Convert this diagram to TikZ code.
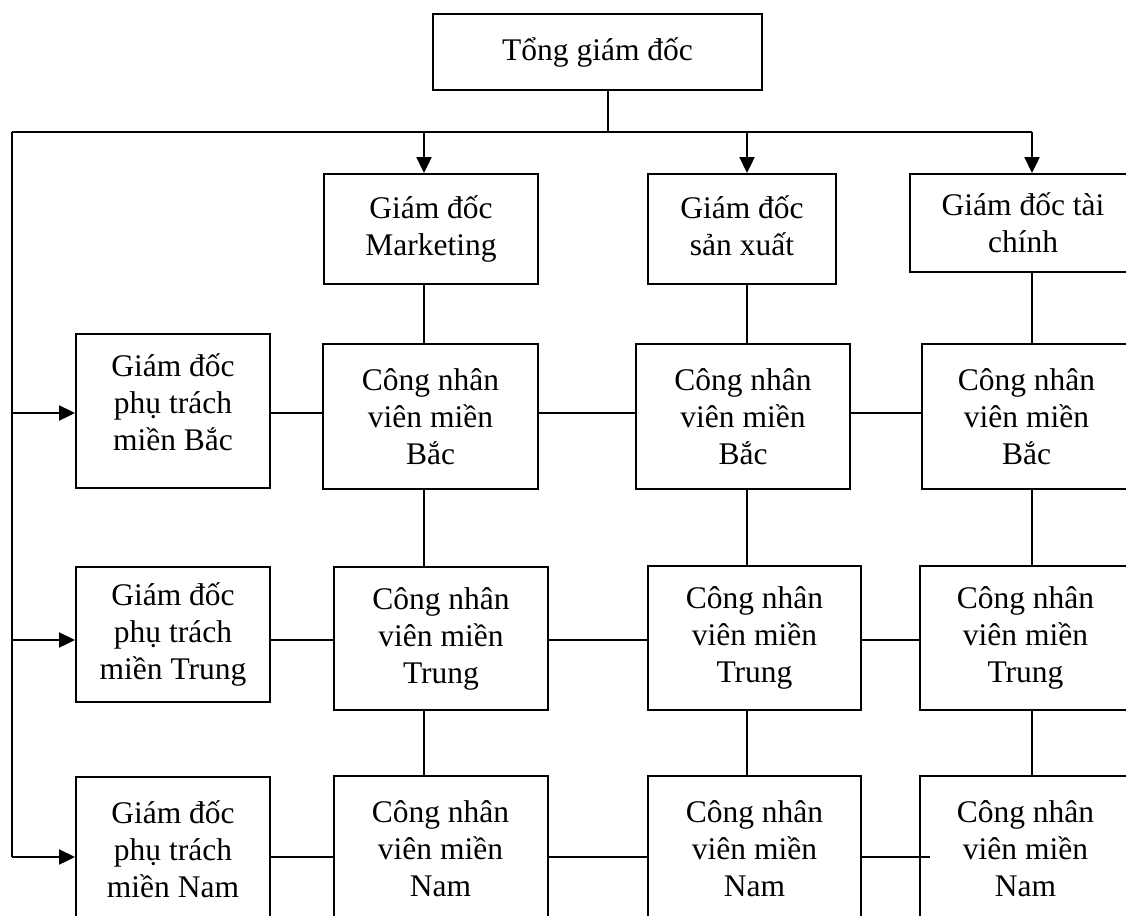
\documentclass[tikz,border=0pt]{standalone}
\usepackage{fontspec}
\setmainfont{Liberation Serif}
\usetikzlibrary{arrows.meta,calc}

\begin{document}
\begin{tikzpicture}[x=1pt,y=-1pt,
  box/.style={draw, line width=2pt, inner sep=0pt, align=center,
    font=\fontsize{31.5}{37}\selectfont},
  link/.style={line width=1.8pt},
  arr/.style={line width=2.4pt, -{Triangle[length=16pt,width=15pt]}}]

\useasboundingbox (0,0) rectangle (1126,915);
\clip (0,0) rectangle (1126,915);

% top level
\node[box, minimum width=329, minimum height=76] (ceo) at (597.5,52) {Tổng giám đốc};

% department directors
\node[box, minimum width=214, minimum height=110] (mk) at (431,229) {Giám đốc\\Marketing};
\node[box, minimum width=188, minimum height=110, text depth=6pt] (sx) at (742,229) {Giám đốc\\sản xuất};
\node[box, minimum width=226, minimum height=98]  (tc) at (1023,223) {Giám đốc tài\\chính};

% regional directors
\node[box, minimum width=194, minimum height=154, text depth=18pt] (l1) at (173,411) {Giám đốc\\phụ trách\\miền Bắc};
\node[box, minimum width=194, minimum height=135] (l2) at (173,634.5) {Giám đốc\\phụ trách\\miền Trung};
\node[box, minimum width=194, minimum height=145] (l3) at (173,849.5) {Giám đốc\\phụ trách\\miền Nam};

% staff, north
\node[box, minimum width=215, minimum height=145] (b1) at (430.5,416.5)  {Công nhân\\viên miền\\Bắc};
\node[box, minimum width=214, minimum height=145] (b2) at (743,416.5)    {Công nhân\\viên miền\\Bắc};
\node[box, minimum width=209, minimum height=145] (b3) at (1026.5,416.5) {Công nhân\\viên miền\\Bắc};

% staff, centre
\node[box, minimum width=214, minimum height=143] (t1) at (441,638.5)    {Công nhân\\viên miền\\Trung};
\node[box, minimum width=213, minimum height=144] (t2) at (754.5,638)    {Công nhân\\viên miền\\Trung};
\node[box, minimum width=211, minimum height=144] (t3) at (1025.5,638)   {Công nhân\\viên miền\\Trung};

% staff, south
\node[box, minimum width=214, minimum height=145] (n1) at (440.5,848.5)  {Công nhân\\viên miền\\Nam};
\node[box, minimum width=213, minimum height=145] (n2) at (754.5,848.5)  {Công nhân\\viên miền\\Nam};
\node[box, minimum width=211, minimum height=145] (n3) at (1025.5,848.5) {Công nhân\\viên miền\\Nam};

% guide coordinates for the connector lines
\coordinate (stem) at (608,132);
\coordinate (busL) at (12,132);
\coordinate (busR) at (1032,132);
\coordinate (busB) at (12,857);
\coordinate (x1) at (424,0);
\coordinate (x2) at (747,0);
\coordinate (x3) at (1032,0);
\coordinate (r1) at (0,413);
\coordinate (r2) at (0,640);
\coordinate (r3) at (0,857);

% main bus
\draw[link] (ceo.south -| stem) -- (stem);
\draw[link] (busL) -- (busR);
\draw[link] (busL) -- (busB);

% arrows to department directors
\draw[arr] (busL -| x1) -- (mk.north -| x1);
\draw[arr] (busL -| x2) -- (sx.north -| x2);
\draw[arr] (busR) -- (tc.north -| x3);

% arrows to regional directors
\draw[arr] (busL |- r1) -- (l1.west |- r1);
\draw[arr] (busL |- r2) -- (l2.west |- r2);
\draw[arr] (busB) -- (l3.west |- busB);

% vertical links in each column
\draw[link] (mk.south -| x1) -- (b1.north -| x1);
\draw[link] (b1.south -| x1) -- (t1.north -| x1);
\draw[link] (t1.south -| x1) -- (n1.north -| x1);
\draw[link] (sx.south -| x2) -- (b2.north -| x2);
\draw[link] (b2.south -| x2) -- (t2.north -| x2);
\draw[link] (t2.south -| x2) -- (n2.north -| x2);
\draw[link] (tc.south -| x3) -- (b3.north -| x3);
\draw[link] (b3.south -| x3) -- (t3.north -| x3);
\draw[link] (t3.south -| x3) -- (n3.north -| x3);

% horizontal links in each row
\draw[link] (l1.east |- r1) -- (b1.west |- r1);
\draw[link] (b1.east |- r1) -- (b2.west |- r1);
\draw[link] (b2.east |- r1) -- (b3.west |- r1);
\draw[link] (l2.east |- r2) -- (t1.west |- r2);
\draw[link] (t1.east |- r2) -- (t2.west |- r2);
\draw[link] (t2.east |- r2) -- (t3.west |- r2);
\draw[link] (l3.east |- r3) -- (n1.west |- r3);
\draw[link] (n1.east |- r3) -- (n2.west |- r3);
\draw[link] (n2.east |- r3) -- ($(n3.west |- r3)+(11,0)$);

\end{tikzpicture}
\end{document}
